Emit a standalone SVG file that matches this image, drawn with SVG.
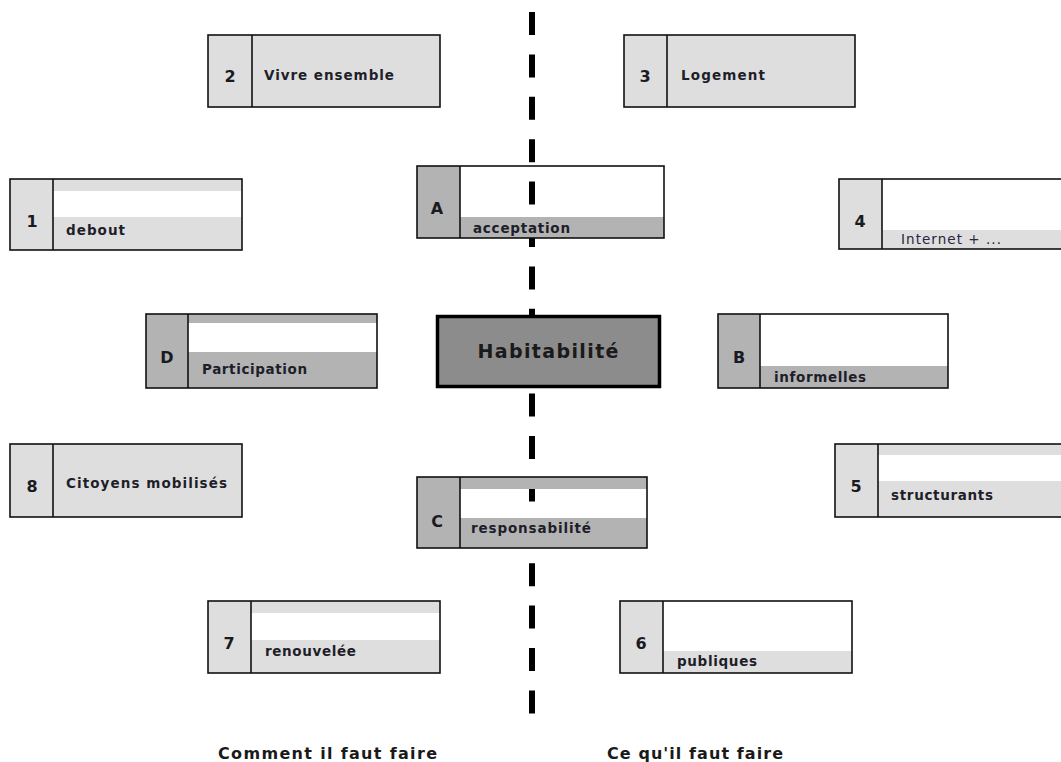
<svg xmlns="http://www.w3.org/2000/svg" width="1061" height="762" viewBox="0 0 1061 762">
<style>
.bx{stroke:#111;stroke-width:1.6;}
.lt{fill:#dedede;}
.md{fill:#b3b3b3;}
.no{fill:none;}
.dv{stroke:#111;stroke-width:1.6;}
.num{font-family:"DejaVu Sans","Liberation Sans",sans-serif;font-weight:bold;font-size:16px;fill:#1a1a22;text-anchor:middle;}
.lbl{font-family:"DejaVu Sans","Liberation Sans",sans-serif;font-weight:bold;font-size:13.5px;fill:#1e1e2a;}
.big{font-family:"DejaVu Sans","Liberation Sans",sans-serif;font-weight:bold;font-size:16px;fill:#1a1a1a;}
</style>
<rect width="1061" height="762" fill="#fff"/>
<g id="connectors">
<line x1="532" y1="12" x2="532" y2="714" stroke="#000" stroke-width="6" stroke-dasharray="23 19.4"/>
</g>
<g id="node-2">
<rect class="bx lt" x="208" y="35" width="232" height="72"/>
<line class="dv" x1="252" y1="35" x2="252" y2="107"/>
<text class="num" x="230" y="82">2</text>
<text class="lbl" x="264" y="80" textLength="130" lengthAdjust="spacing">Vivre ensemble</text>
</g>
<g id="node-3">
<rect class="bx lt" x="624" y="35" width="231" height="72"/>
<line class="dv" x1="667" y1="35" x2="667" y2="107"/>
<text class="num" x="645" y="82">3</text>
<text class="lbl" x="681" y="80" textLength="84" lengthAdjust="spacing">Logement</text>
</g>
<g id="node-1">
<rect class="lt" x="53" y="179" width="189" height="12"/>
<rect class="lt" x="53" y="217" width="189" height="33"/>
<rect class="lt" x="10" y="179" width="43" height="71"/>
<rect class="bx no" x="10" y="179" width="232" height="71"/>
<line class="dv" x1="53" y1="179" x2="53" y2="250"/>
<text class="num" x="32" y="227">1</text>
<text class="lbl" x="66" y="235" textLength="59" lengthAdjust="spacing">debout</text>
</g>
<g id="node-A">
<rect class="md" x="460" y="217" width="204" height="21"/>
<rect class="md" x="417" y="166" width="43" height="72"/>
<rect class="bx no" x="417" y="166" width="247" height="72"/>
<line class="dv" x1="460" y1="166" x2="460" y2="238"/>
<text class="num" x="437" y="214">A</text>
<text class="lbl" x="473" y="233" textLength="97" lengthAdjust="spacing">acceptation</text>
</g>
<g id="node-4">
<rect class="lt" x="882" y="230" width="185" height="19"/>
<rect class="lt" x="839" y="179" width="43" height="70"/>
<rect class="bx no" x="839" y="179" width="230" height="70"/>
<line class="dv" x1="882" y1="179" x2="882" y2="249"/>
<text class="num" x="860" y="227">4</text>
<text class="lbl" x="901" y="244" textLength="100" lengthAdjust="spacing" style="font-weight:normal;fill:#2a2440">Internet + ...</text>
</g>
<g id="node-D">
<rect class="md" x="188" y="314" width="189" height="9"/>
<rect class="md" x="188" y="352" width="189" height="36"/>
<rect class="md" x="146" y="314" width="42" height="74"/>
<rect class="bx no" x="146" y="314" width="231" height="74"/>
<line class="dv" x1="188" y1="314" x2="188" y2="388"/>
<text class="num" x="167" y="363">D</text>
<text class="lbl" x="202" y="374" textLength="105" lengthAdjust="spacing">Participation</text>
</g>
<g id="node-center">
<rect x="437.5" y="316.5" width="222" height="70" fill="#8c8c8c" stroke="#000" stroke-width="3.5"/>
<text class="big" x="548" y="358" text-anchor="middle" textLength="141" lengthAdjust="spacing" style="font-size:19px">Habitabilité</text>
</g>
<g id="node-B">
<rect class="md" x="760" y="366" width="188" height="22"/>
<rect class="md" x="718" y="314" width="42" height="74"/>
<rect class="bx no" x="718" y="314" width="230" height="74"/>
<line class="dv" x1="760" y1="314" x2="760" y2="388"/>
<text class="num" x="739" y="363">B</text>
<text class="lbl" x="774" y="382" textLength="92" lengthAdjust="spacing">informelles</text>
</g>
<g id="node-8">
<rect class="bx lt" x="10" y="444" width="232" height="73"/>
<line class="dv" x1="53" y1="444" x2="53" y2="517"/>
<text class="num" x="32" y="492">8</text>
<text class="lbl" x="66" y="488" textLength="161" lengthAdjust="spacing">Citoyens mobilisés</text>
</g>
<g id="node-C">
<rect class="md" x="460" y="477" width="187" height="12"/>
<rect class="md" x="460" y="518" width="187" height="30"/>
<rect class="md" x="417" y="477" width="43" height="71"/>
<rect class="bx no" x="417" y="477" width="230" height="71"/>
<line class="dv" x1="460" y1="477" x2="460" y2="548"/>
<text class="num" x="437" y="527">C</text>
<text class="lbl" x="471" y="533" textLength="120" lengthAdjust="spacing">responsabilité</text>
</g>
<g id="node-5">
<rect class="lt" x="878" y="444" width="189" height="11"/>
<rect class="lt" x="878" y="481" width="189" height="36"/>
<rect class="lt" x="835" y="444" width="43" height="73"/>
<rect class="bx no" x="835" y="444" width="234" height="73"/>
<line class="dv" x1="878" y1="444" x2="878" y2="517"/>
<text class="num" x="856" y="492">5</text>
<text class="lbl" x="891" y="500" textLength="102" lengthAdjust="spacing">structurants</text>
</g>
<g id="node-7">
<rect class="lt" x="251" y="601" width="189" height="12"/>
<rect class="lt" x="251" y="640" width="189" height="33"/>
<rect class="lt" x="208" y="601" width="43" height="72"/>
<rect class="bx no" x="208" y="601" width="232" height="72"/>
<line class="dv" x1="251" y1="601" x2="251" y2="673"/>
<text class="num" x="229" y="649">7</text>
<text class="lbl" x="265" y="656" textLength="91" lengthAdjust="spacing">renouvelée</text>
</g>
<g id="node-6">
<rect class="lt" x="663" y="651" width="189" height="22"/>
<rect class="lt" x="620" y="601" width="43" height="72"/>
<rect class="bx no" x="620" y="601" width="232" height="72"/>
<line class="dv" x1="663" y1="601" x2="663" y2="673"/>
<text class="num" x="641" y="649">6</text>
<text class="lbl" x="677" y="666" textLength="80" lengthAdjust="spacing">publiques</text>
</g>
<g id="captions">
<text class="big" x="218" y="759" textLength="219" lengthAdjust="spacing">Comment il faut faire</text>
<text class="big" x="607" y="759" textLength="176" lengthAdjust="spacing">Ce qu'il faut faire</text>
</g>
</svg>
